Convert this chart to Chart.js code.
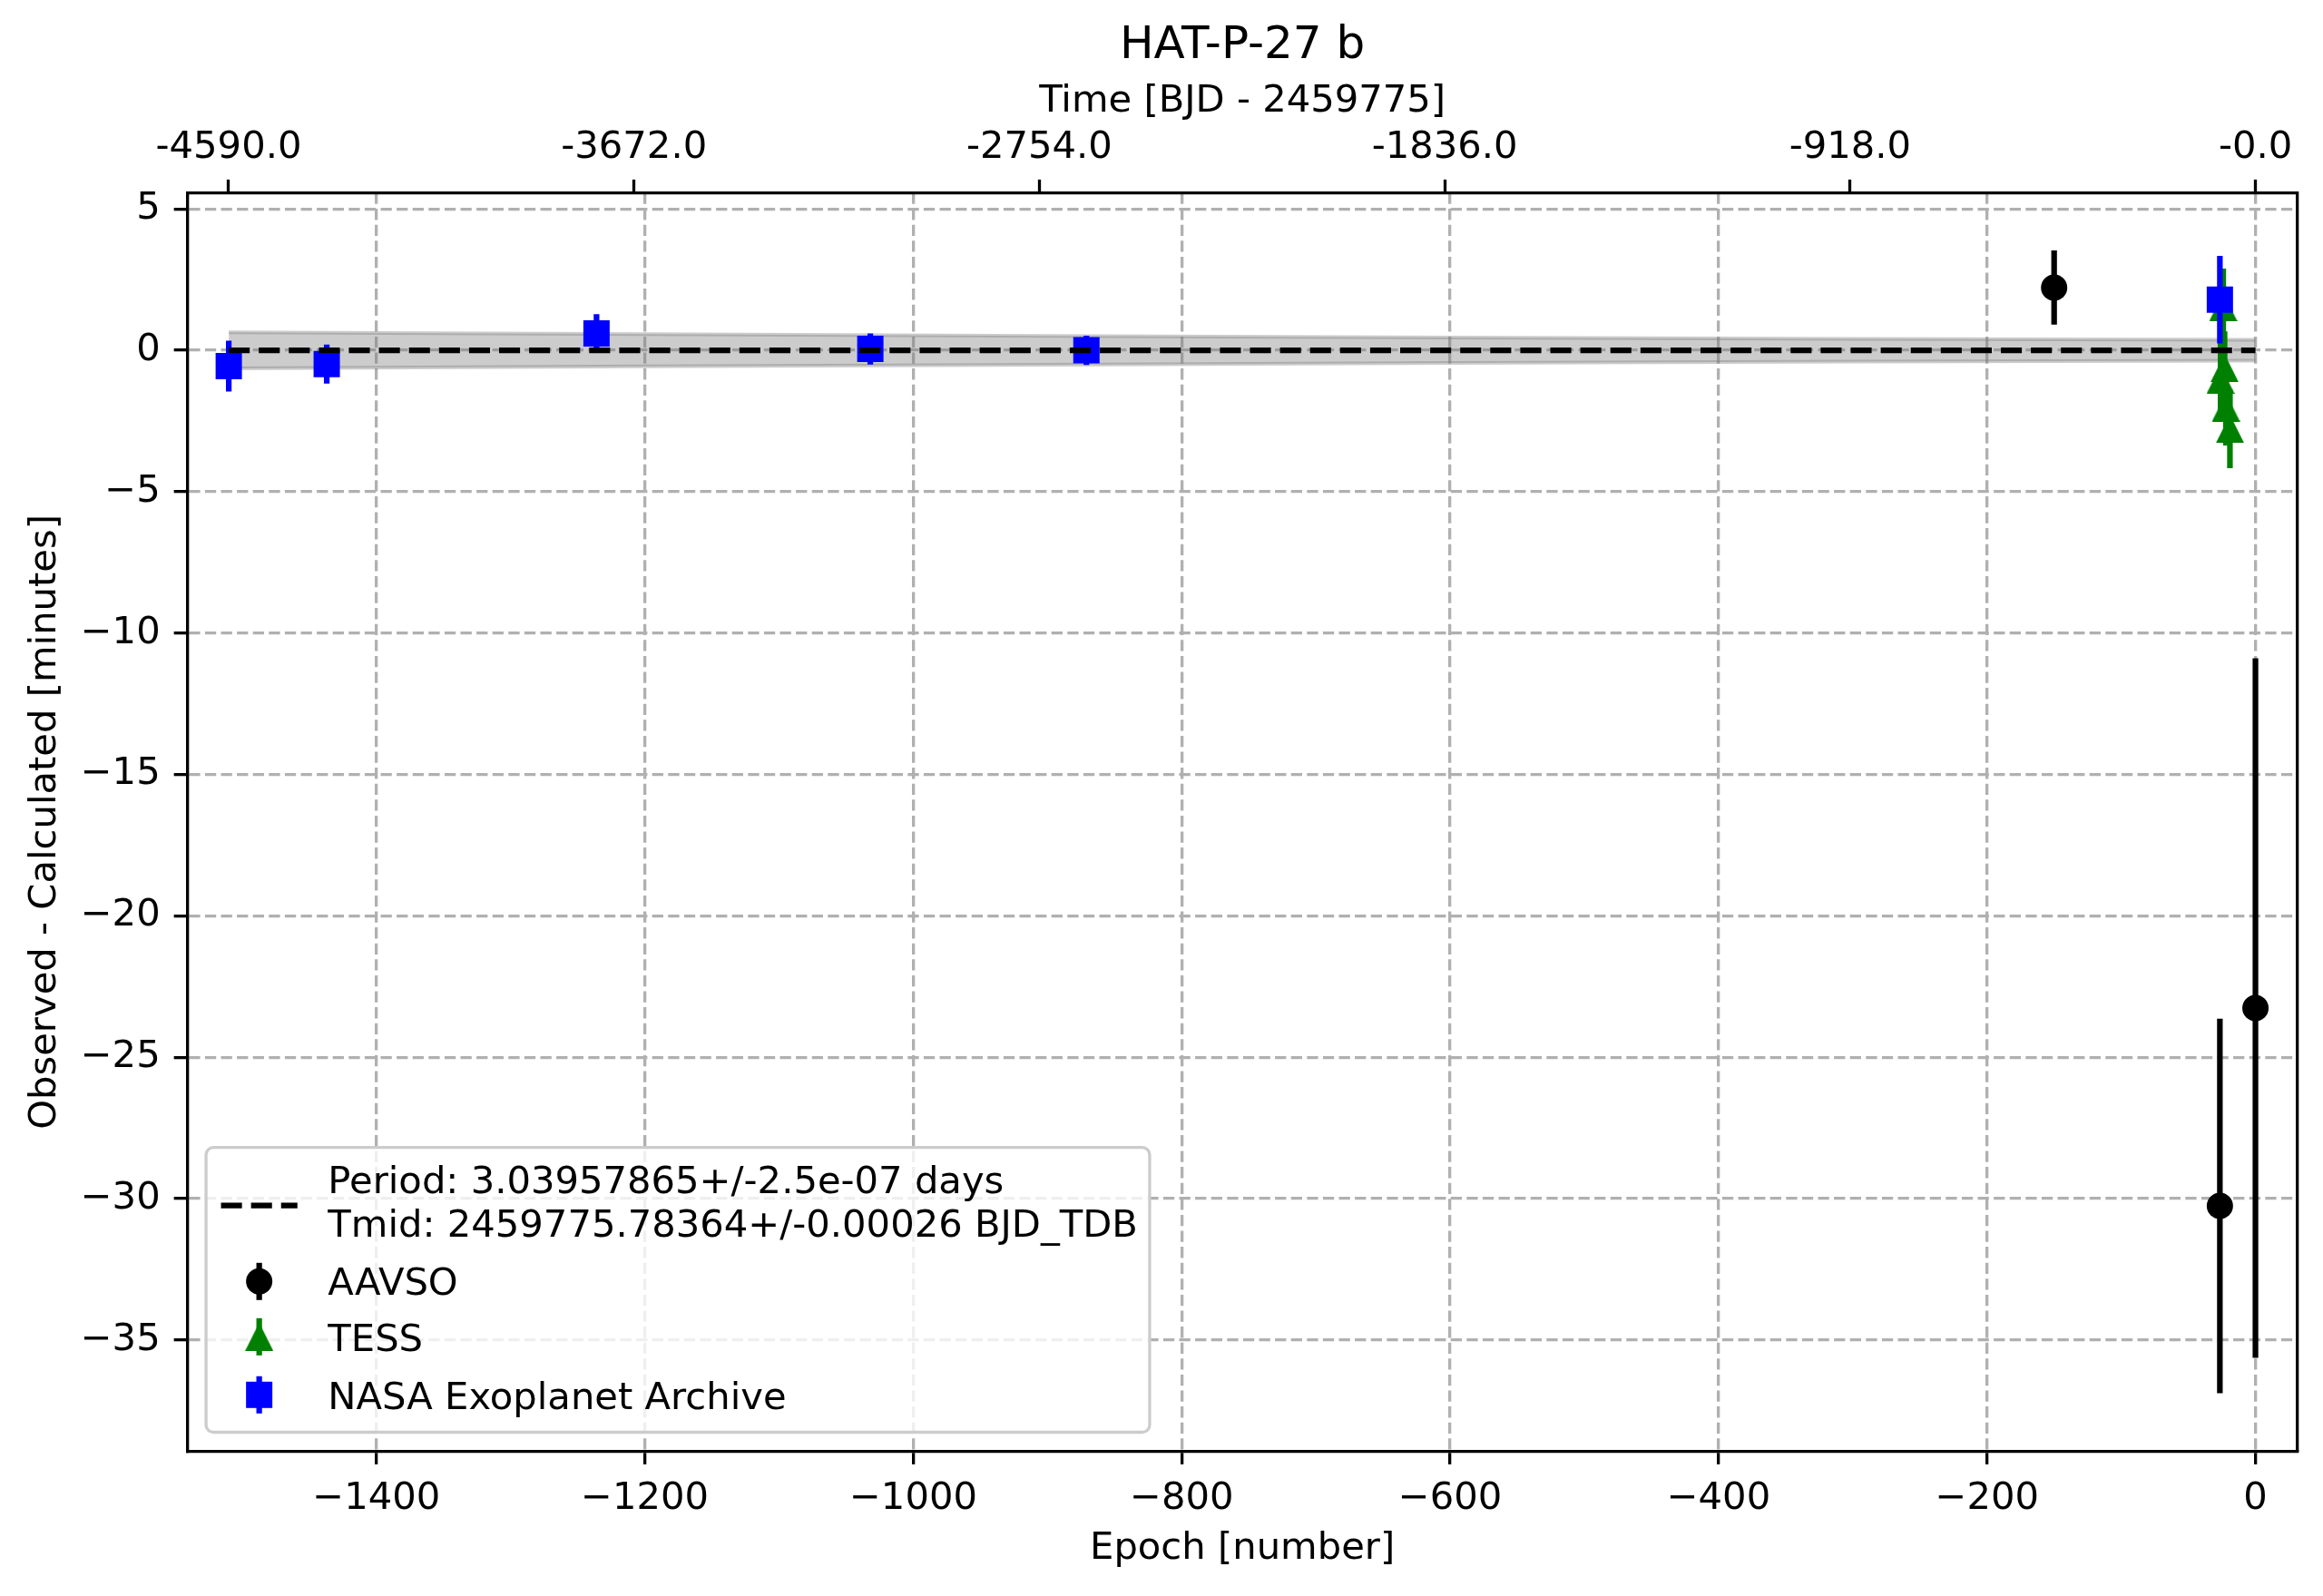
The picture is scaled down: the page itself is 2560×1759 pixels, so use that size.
<!DOCTYPE html>
<html>
<head>
<meta charset="utf-8">
<title>HAT-P-27 b</title>
<script src="https://cdn.jsdelivr.net/npm/chart.js@4.4.0/dist/chart.umd.min.js"></script>
<style>
  html, body { margin: 0; padding: 0; background: #fff; }
  #wrap { width: 2560px; height: 1759px; }
</style>
</head>
<body>
<div id="wrap"><canvas id="ocChart" width="2560" height="1759"></canvas></div>
<script>
// values
const period = 3.03957865;   // days (legend)
const xRange = [-1541, 31.4];   // epoch
const yRange = [-38.93, 5.57];  // minutes

const xTicks = [-1400, -1200, -1000, -800, -600, -400, -200, 0];
const xTickLabels = ['−1400', '−1200', '−1000', '−800', '−600', '−400', '−200', '0'];
const yTicks = [-35, -30, -25, -20, -15, -10, -5, 0, 5];
const yTickLabels = ['−35', '−30', '−25', '−20', '−15', '−10', '−5', '0', '5'];
const timeTicks = [-4590, -3672, -2754, -1836, -918, 0];
const timeTickLabels = ['-4590.0', '-3672.0', '-2754.0', '-1836.0', '-918.0', '-0.0'];

const aavsoEpoch = [-150, -26.5, 0];
const aavsoOC = [2.22, -30.26, -23.26];
const aavsoErr = [1.31, 6.62, 12.37];

const tessEpoch = [-24, -23, -26, -22, -19];
const tessOC = [1.53, -0.63, -1.04, -2.02, -2.78];
const tessErr = [1.36, 1.3, 1.3, 1.35, 1.39];

const nasaEpoch = [-1510, -1437, -1236, -1032, -871, -26.5];
const nasaOC = [-0.56, -0.49, 0.6, 0.05, 0.0, 1.79];
const nasaErr = [0.9, 0.69, 0.68, 0.55, 0.52, 1.55];

const fitEpoch = [-1510, 0];
const fitOC = [0, 0];
const bandEpoch = [-1510, -1200, -900, -600, -300, 0];
const bandUpper = [0.64, 0.57, 0.51, 0.45, 0.40, 0.37];
const bandLower = [-0.64, -0.57, -0.51, -0.45, -0.40, -0.37];

const legendLabels = [
  ['Period: 3.03957865+/-2.5e-07 days', 'Tmid: 2459775.78364+/-0.00026 BJD_TDB'],
  ['AAVSO'],
  ['TESS'],
  ['NASA Exoplanet Archive']
];

const FAMILY = 'DejaVu Sans';
const FS = 41.7;        // 10pt at this size
const LW = 6.25;        // errorbar / fit line width
const grey = 'rgba(128,128,128,0.4)';

Chart.defaults.font.family = FAMILY;
Chart.defaults.color = '#000';

function points(xs, ys) {
  return xs.map((x, i) => ({x: x, y: ys[i]}));
}

// vertical segments, separated by gaps
function errSegments(xs, ys, es) {
  const out = [];
  xs.forEach((x, i) => {
    out.push({x: x, y: ys[i] - es[i]}, {x: x, y: ys[i] + es[i]}, {x: x, y: null});
  });
  return out;
}

function triangleMarker(size, color) {
  const c = document.createElement('canvas');
  c.width = size; c.height = size;
  const g = c.getContext('2d');
  g.fillStyle = color;
  g.beginPath();
  g.moveTo(size / 2, 0);
  g.lineTo(size, size);
  g.lineTo(0, size);
  g.closePath();
  g.fill();
  return c;
}
const tri = triangleMarker(31, '#008000');

function roundedBox(ctx, x, y, w, h, r) {
  ctx.beginPath();
  ctx.moveTo(x + r, y);
  ctx.arcTo(x + w, y, x + w, y + h, r);
  ctx.arcTo(x + w, y + h, x, y + h, r);
  ctx.arcTo(x, y + h, x, y, r);
  ctx.arcTo(x, y, x + w, y, r);
  ctx.closePath();
}

// matplotlib style legend in the lower left of the axes
const legendBox = {
  id: 'legendBox',
  afterDraw(chart) {
    const ctx = chart.ctx;
    const area = chart.chartArea;
    ctx.save();
    ctx.font = FS + 'px "' + FAMILY + '"';
    let textW = 0;
    legendLabels.forEach(lines => lines.forEach(t => {
      textW = Math.max(textW, ctx.measureText(t).width);
    }));
    const pad = 20.8;
    const left = area.left + pad;
    const bottom = area.bottom - pad;
    const top = bottom - 313.8;
    const textX = left + 134.3;
    const right = textX + textW + 13;

    roundedBox(ctx, left, top, right - left, bottom - top, 8);
    ctx.fillStyle = 'rgba(255,255,255,0.8)';
    ctx.fill();
    ctx.lineWidth = 3.3;
    ctx.strokeStyle = '#cccccc';
    ctx.stroke();

    // text
    ctx.fillStyle = '#000';
    ctx.textAlign = 'left';
    ctx.textBaseline = 'alphabetic';
    const baselines = [[50.3, 98.6], [162], [224.6], [288]];
    legendLabels.forEach((lines, i) => {
      lines.forEach((t, j) => ctx.fillText(t, textX, top + baselines[i][j]));
    });

    const hx0 = left + 16.5, hx1 = left + 100.7, hc = left + 58.6;
    // fit line handle
    ctx.setLineDash([23.1, 10]);
    ctx.lineWidth = LW;
    ctx.strokeStyle = '#000';
    ctx.beginPath();
    ctx.moveTo(hx0, top + 64);
    ctx.lineTo(hx1, top + 64);
    ctx.stroke();
    ctx.setLineDash([]);

    function bar(color, cy) {
      ctx.strokeStyle = color;
      ctx.beginPath();
      ctx.moveTo(hc, cy - 20.5);
      ctx.lineTo(hc, cy + 20.5);
      ctx.stroke();
    }
    // AAVSO
    let cy = top + 147.6;
    bar('#000', cy);
    ctx.fillStyle = '#000';
    ctx.beginPath();
    ctx.arc(hc, cy, 14.5, 0, Math.PI * 2);
    ctx.fill();
    // TESS
    cy = top + 208.6;
    bar('#008000', cy);
    ctx.drawImage(tri, hc - tri.width / 2, cy - tri.height / 2);
    // NASA
    cy = top + 272.6;
    bar('#0000ff', cy);
    ctx.fillStyle = '#0000ff';
    ctx.fillRect(hc - 14.5, cy - 14.5, 29, 29);
    ctx.restore();
  }
};

const tickFont = {family: FAMILY, size: FS};
const labelFont = {family: FAMILY, size: FS};

const ctx = document.getElementById('ocChart');
const myChart = new Chart(ctx, {
  type: 'scatter',
  data: {
    datasets: [
      {
        type: 'line', label: 'band upper',
        data: points(bandEpoch, bandUpper),
        borderColor: grey, borderWidth: 4, backgroundColor: grey,
        fill: '+1', pointRadius: 0, order: 8
      },
      {
        type: 'line', label: 'band lower',
        data: points(bandEpoch, bandLower),
        borderColor: grey, borderWidth: 4,
        fill: false, pointRadius: 0, order: 9
      },
      {
        type: 'line', label: 'AAVSO err',
        data: errSegments(aavsoEpoch, aavsoOC, aavsoErr),
        borderColor: '#000', borderWidth: LW, pointRadius: 0, spanGaps: false, order: 7
      },
      {
        label: 'AAVSO',
        data: points(aavsoEpoch, aavsoOC),
        pointStyle: 'circle', pointRadius: 14.5, pointBorderWidth: 0,
        backgroundColor: '#000', pointBackgroundColor: '#000', order: 6
      },
      {
        type: 'line', label: 'TESS err',
        data: errSegments(tessEpoch, tessOC, tessErr),
        borderColor: '#008000', borderWidth: LW, pointRadius: 0, spanGaps: false, order: 5
      },
      {
        label: 'TESS',
        data: points(tessEpoch, tessOC),
        pointStyle: tri, pointRadius: 15, pointBorderWidth: 0,
        backgroundColor: '#008000', order: 4
      },
      {
        type: 'line', label: 'NASA err',
        data: errSegments(nasaEpoch, nasaOC, nasaErr),
        borderColor: '#0000ff', borderWidth: LW, pointRadius: 0, spanGaps: false, order: 3
      },
      {
        label: 'NASA Exoplanet Archive',
        data: points(nasaEpoch, nasaOC),
        pointStyle: 'rect', pointRadius: 20.5, pointBorderWidth: 0,
        backgroundColor: '#0000ff', pointBackgroundColor: '#0000ff', order: 2
      },
      {
        type: 'line', label: 'fit',
        data: points(fitEpoch, fitOC),
        borderColor: '#000', borderWidth: LW, borderDash: [23.1, 10],
        pointRadius: 0, fill: false, order: 1
      }
    ]
  },
  options: {
    responsive: false,
    animation: false,
    devicePixelRatio: 1,
    events: [],
    layout: {padding: 0},
    plugins: {
      legend: {display: false},
      tooltip: {enabled: false},
      title: {
        display: true, text: 'HAT-P-27 b', fullSize: false, color: '#000',
        font: {family: FAMILY, size: 50, weight: 'normal'},
        padding: {top: 21, bottom: 0}
      }
    },
    scales: {
      x: {
        type: 'linear', position: 'bottom', bounds: 'data',
        min: xRange[0], max: xRange[1],
        afterBuildTicks: s => { s.ticks = xTicks.map(v => ({value: v})); },
        afterFit: s => { s.height = 159.7; },
        ticks: {callback: (v, i) => xTickLabels[i], padding: 13, font: tickFont, color: '#000', maxRotation: 0, autoSkip: false},
        grid: {color: '#b0b0b0', lineWidth: 3.3, tickLength: 14.6, tickWidth: 3.3, tickColor: '#000'},
        border: {display: true, color: '#000', width: 3.3, dash: [12.3, 5.3]},
        title: {display: true, text: 'Epoch [number]', font: labelFont, color: '#000', padding: {top: 0, bottom: 26.7}}
      },
      x2: {
        type: 'linear', position: 'top', bounds: 'data',
        min: xRange[0] * period, max: xRange[1] * period,
        afterBuildTicks: s => { s.ticks = timeTicks.map(v => ({value: v})); },
        afterFit: s => { s.height = 131.5; },
        ticks: {callback: (v, i) => timeTickLabels[i], padding: 9.5, font: tickFont, color: '#000', maxRotation: 0, autoSkip: false},
        grid: {drawOnChartArea: false, tickLength: 14.6, tickWidth: 3.3, tickColor: '#000'},
        border: {display: true, color: '#000', width: 3.3},
        title: {display: true, text: 'Time [BJD - 2459775]', font: labelFont, color: '#000', padding: {top: 6.3, bottom: 0}}
      },
      y: {
        type: 'linear', position: 'left', bounds: 'data',
        min: yRange[0], max: yRange[1],
        afterBuildTicks: s => { s.ticks = yTicks.map(v => ({value: v})); },
        afterFit: s => { s.width = 206.25; },
        ticks: {callback: (v, i) => yTickLabels[i], padding: 15, font: tickFont, color: '#000', autoSkip: false},
        grid: {color: '#b0b0b0', lineWidth: 3.3, tickLength: 14.6, tickWidth: 3.3, tickColor: '#000'},
        border: {display: true, color: '#000', width: 3.3, dash: [12.3, 5.3]},
        title: {display: true, text: 'Observed - Calculated [minutes]', font: labelFont, color: '#000', padding: {top: 25, bottom: 0}}
      },
      y2: {
        type: 'linear', position: 'right', min: 0, max: 1,
        afterFit: s => { s.width = 28; },
        ticks: {display: false},
        grid: {drawOnChartArea: false, drawTicks: false},
        border: {display: true, color: '#000', width: 3.3}
      }
    }
  },
  plugins: [legendBox]
});
</script>
</body>
</html>
